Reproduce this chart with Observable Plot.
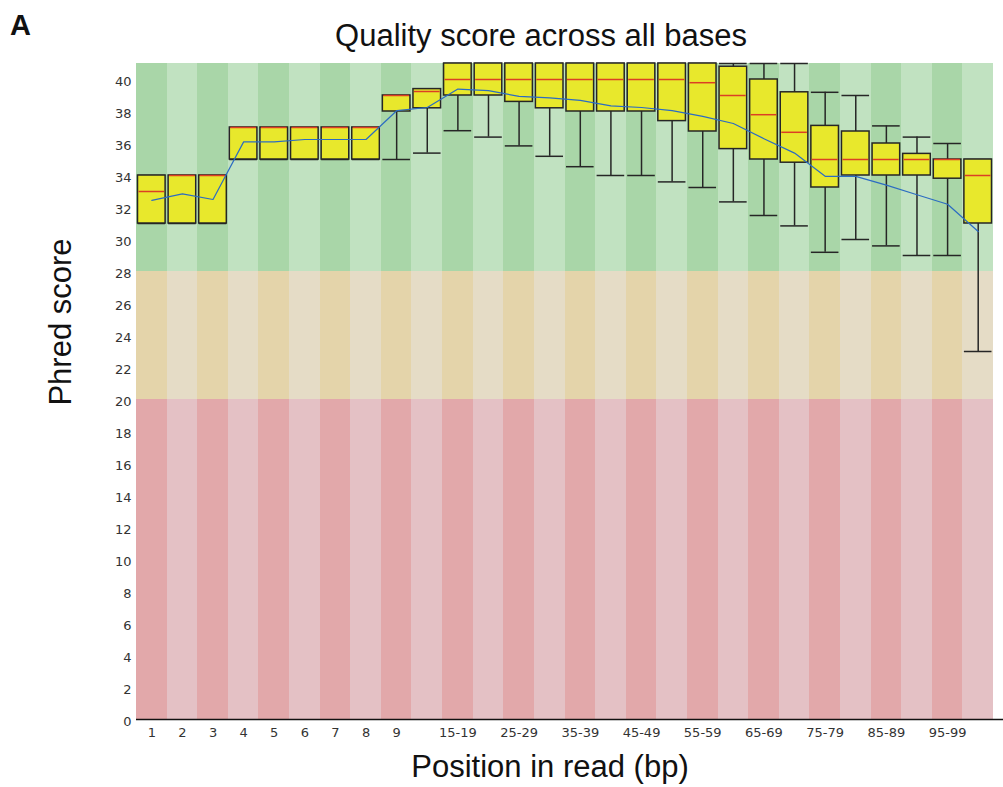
<!DOCTYPE html>
<html><head><meta charset="utf-8">
<script src="https://cdn.jsdelivr.net/npm/d3@7"></script>
<script src="https://cdn.jsdelivr.net/npm/@observablehq/plot@0.6"></script>
<style>
body{margin:0;background:#fff;}
#wrap{position:relative;width:1003px;height:787px;font-family:"Liberation Sans",Arial,sans-serif;overflow:hidden;}
#wrap svg{position:absolute;left:0;top:0;}
.lbl{position:absolute;color:#111;white-space:nowrap;line-height:normal;z-index:2;}
</style></head><body>
<div id="wrap">
  <div class="lbl" style="left:10px;top:9px;font-size:29px;font-weight:bold;">A</div>
  <div class="lbl" style="left:541px;top:18px;font-size:31px;transform:translateX(-50%);">Quality score across all bases</div>
  <div class="lbl" style="left:61px;top:322px;font-size:31px;transform:translate(-50%,-50%) rotate(-90deg);">Phred score</div>
  <div class="lbl" style="left:550px;top:749px;font-size:31px;transform:translateX(-50%);">Position in read (bp)</div>
</div>
<script>
const categories = ["1","2","3","4","5","6","7","8","9","10-14","15-19","20-24","25-29","30-34","35-39","40-44","45-49","50-54","55-59","60-64","65-69","70-74","75-79","80-84","85-89","90-94","95-99","100-101"];
const xTickLabels = ["1","2","3","4","5","6","7","8","9","15-19","25-29","35-39","45-49","55-59","65-69","75-79","85-89","95-99"];
const yTickLabels = [0,2,4,6,8,10,12,14,16,18,20,22,24,26,28,30,32,34,36,38,40];

const lowerWhisker = [31,31,31,35,35,35,35,35,35,35.4,36.8,36.4,35.85,35.2,34.55,34,34,33.6,33.25,32.35,31.5,30.85,29.2,30,29.6,29,29,23];
const lowerQuartile = [31,31,31,35,35,35,35,35,38,38.2,39,39,38.6,38.2,38,38,38,37.4,36.75,35.65,35,34.8,33.25,34,34,34,33.8,31];
const medianScore = [33,34,34,37,37,37,37,37,39,39.25,40,40,40,40,40,40,40,40,39.8,39,37.8,36.7,35,35,35,35,35,34];
const upperQuartile = [34,34,34,37,37,37,37,37,39,39.4,41,41,41,41,41,41,41,41,41,40.8,40,39.2,37.1,36.75,36,35.35,35,35];
const upperWhisker = [34,34,34,37,37,37,37,37,39,39.4,41,41,41,41,41,41,41,41,41,41,41,41,39.2,39,37.1,36.4,36,35];
const meanScore = [32.45,32.85,32.5,36.1,36.1,36.25,36.25,36.25,38.05,38.25,39.4,39.3,38.95,38.85,38.7,38.35,38.25,38.05,37.7,37.25,36.3,35.4,33.95,33.95,33.4,32.8,32.2,30.5];

const zoneLow = [0,20,28];
const zoneHigh = [20,28,41];
const zoneDark = ["#e2a8aa","#e4d4aa","#a9d6a8"];
const zoneLight = ["#e4c1c5","#e5dcc6","#c1e2c1"];

const stats = categories.map((c,i)=>({cat:c, lo:lowerWhisker[i], q1:lowerQuartile[i], med:medianScore[i], q3:upperQuartile[i], hi:upperWhisker[i], mean:meanScore[i]}));
const bg = [];
categories.forEach((c,i)=>zoneLow.forEach((lo,z)=>bg.push({cat:c, lo, hi:zoneHigh[z], color:(i%2===0?zoneDark[z]:zoneLight[z])})));

const ink = "#262626";
const plot = Plot.plot({
  width:1003, height:787,
  marginLeft:136, marginRight:10, marginTop:63, marginBottom:68,
  style:{fontFamily:"'DejaVu Sans',sans-serif", fontSize:"13px", color:"#333", background:"transparent"},
  x:{type:"band", domain:categories, padding:0, round:false},
  y:{domain:[0,41]},
  color:{type:"identity"},
  marks:[
    Plot.barY(bg, {x:"cat", y1:"lo", y2:"hi", fill:"color", shapeRendering:"crispEdges"}),
    Plot.ruleX(stats, {x:"cat", y1:"lo", y2:"hi", stroke:ink, strokeWidth:1.5}),
    Plot.tickY(stats, {x:"cat", y:"lo", stroke:ink, strokeWidth:1.5, insetLeft:1.5, insetRight:1.5}),
    Plot.tickY(stats, {x:"cat", y:"hi", stroke:ink, strokeWidth:1.5, insetLeft:1.5, insetRight:1.5}),
    Plot.barY(stats, {x:"cat", y1:"q1", y2:"q3", fill:"#e8e82c", stroke:ink, strokeWidth:1.5, insetLeft:1.5, insetRight:1.5}),
    Plot.tickY(stats, {x:"cat", y:"med", stroke:"#dc3f24", strokeWidth:1.5, insetLeft:2.5, insetRight:2.5}),
    Plot.lineY(stats, {x:"cat", y:"mean", stroke:"#2c6cc2", strokeWidth:1.2}),
    Plot.ruleY([0], {stroke:"#111", strokeWidth:1.5, insetRight:-10}),
    Plot.axisX({ticks:xTickLabels, tickSize:0, tickPadding:8, label:null, fontSize:13, letterSpacing:"1.2px"}),
    Plot.axisY({ticks:yTickLabels, tickSize:0, tickPadding:5, dy:2, label:null, fontSize:13, letterSpacing:"1.2px"})
  ]
});
document.getElementById("wrap").appendChild(plot);
</script>
</body></html>
